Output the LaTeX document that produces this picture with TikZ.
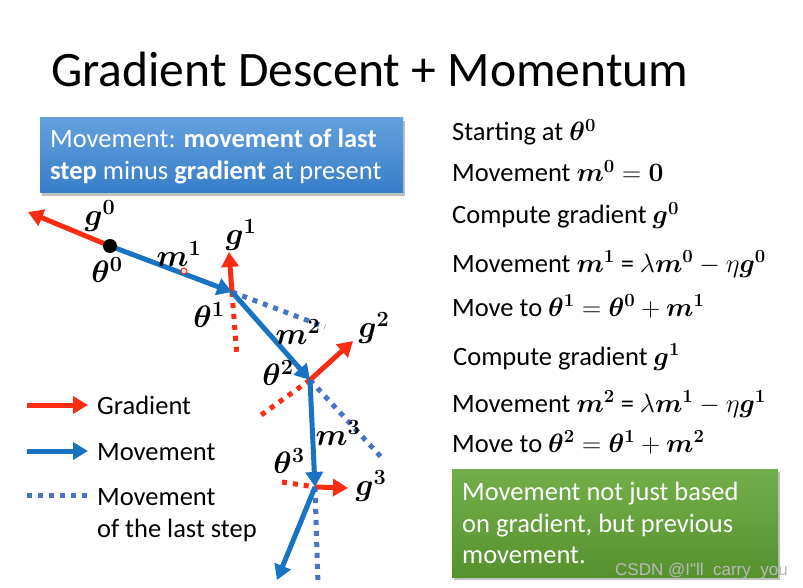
\RequirePackage{fix-cm}
\documentclass[tikz,border=0pt]{standalone}
\usepackage{amsmath,bm}
\usepackage{fontspec}
\setmainfont{Carlito}
\newfontfamily\wmfont{Liberation Sans}
\usetikzlibrary{arrows.meta}
\definecolor{gred}{RGB}{250,45,20}
\definecolor{mblue}{RGB}{25,115,195}
\definecolor{dblue}{RGB}{75,115,195}
\definecolor{bluetop}{RGB}{100,160,222}
\definecolor{bluebot}{RGB}{55,125,200}
\definecolor{greentop}{RGB}{115,175,75}
\definecolor{greenbot}{RGB}{85,145,45}
\tikzset{
  grad/.style={gred, line width=5pt, -{Triangle[length=15pt,width=17pt]}},
  mov/.style={mblue, line width=5pt, -{Triangle[length=15pt,width=17pt]}},
  lastmov/.style={dblue, line width=5pt, dash pattern=on 5pt off 6pt},
  reddot/.style={gred, line width=5pt, dash pattern=on 5pt off 6pt},
  lbl/.style={inner sep=0pt, font=\fontsize{31}{34}\selectfont},
  txt/.style={inner sep=0pt, anchor=base west, font=\fontsize{26.5}{32}\selectfont},
  wtxt/.style={txt, text=white},
  shadowbox/.style={fill=black!25, draw=none}
}
\begin{document}
\begin{tikzpicture}[x=1pt,y=-1pt]
\useasboundingbox (0,0) rectangle (803,588);
\fill[white] (0,0) rectangle (803,588);
% title
\node[inner sep=0pt, anchor=base west, font=\fontsize{49.6}{55}\selectfont] (title) at (51,87) {Gradient Descent + Momentum};
% blue box
\fill[shadowbox] (42,121) rectangle (405,196);
\shade[top color=bluetop, bottom color=bluebot] (40,118) rectangle (403,193);
\node[wtxt] (b1) at (50,148) {Movement: \textbf{movement of last}};
\node[wtxt] (b2) at (50,180) {\textbf{step} minus \textbf{gradient} at present};
% right text
\node[txt] (r1) at (452,141) {Starting at $\bm{\theta}^{\bm{0}}$};
\node[txt] (r2) at (452,182) {Movement $\bm{m}^{\bm{0}} = \bm{0}$};
\node[txt] (r3) at (452,224) {Compute gradient $\bm{g}^{\bm{0}}$};
\node[txt] (r4) at (452,272) {Movement $\bm{m}^{\bm{1}}$ = $\lambda\bm{m}^{\bm{0}} - \eta\bm{g}^{\bm{0}}$};
\node[txt] (r5) at (452,316) {Move to $\bm{\theta}^{\bm{1}} = \bm{\theta}^{\bm{0}} + \bm{m}^{\bm{1}}$};
\node[txt] (r6) at (453,365) {Compute gradient $\bm{g}^{\bm{1}}$};
\node[txt] (r7) at (452,412) {Movement $\bm{m}^{\bm{2}}$ = $\lambda\bm{m}^{\bm{1}} - \eta\bm{g}^{\bm{1}}$};
\node[txt] (r8) at (452,452) {Move to $\bm{\theta}^{\bm{2}} = \bm{\theta}^{\bm{1}} + \bm{m}^{\bm{2}}$};
% green box
\fill[shadowbox] (454,472) rectangle (780,580);
\shade[top color=greentop, bottom color=greenbot] (452,469) rectangle (778,577);
\node[wtxt] (gt1) at (462,500) {Movement not just based};
\node[wtxt] (gt2) at (462,532) {on gradient, but previous};
\node[wtxt] (gt3) at (462,563) {movement.};
\node[inner sep=0pt, anchor=base west, text=gray!55, font=\wmfont\fontsize{17}{19}\selectfont] (wm) at (615,575) {CSDN @I"ll\ \ carry\ \ you};
% points
\coordinate (t0) at (110,246);
\coordinate (t1) at (232,292);
\coordinate (t2) at (310,380);
\coordinate (t3) at (315,487);
\coordinate (g0) at (28,212);
\coordinate (g1) at (229,252);
\coordinate (g2) at (353,341);
\coordinate (g3) at (348,488);
\coordinate (rd1) at (237,357);
\coordinate (rd2) at (257,418);
\coordinate (rd3) at (282,482);
\coordinate (bd1) at (325,327);
\coordinate (bd2) at (382,458);
\coordinate (bd3) at (318,585);
\coordinate (m4) at (277,580);
% dotted lines
\draw[lastmov] (t1) -- (bd1);
\draw[lastmov] (t2) -- (bd2);
\draw[lastmov] (t3) -- (bd3);
\draw[reddot] (t1) -- (rd1);
\draw[reddot] (t2) -- (rd2);
\draw[reddot] (rd3) -- (t3);
% gradients
\draw[grad] (t0) -- (g0);
\draw[grad] (t1) -- (g1);
\draw[grad] (t2) -- (g2);
\draw[grad] (t3) -- (g3);
% movements
\draw[mov] (t0) -- (t1);
\draw[mov] (t1) -- (t2);
\draw[mov] (t2) -- (t3);
\draw[mov] (t3) -- (m4);
\fill[black] (t0) circle (7pt);
\draw[gred, line width=1pt, fill=gred!15] (184,271) circle (3pt);
% labels
\node[lbl] (lg0) at (100,216) {$\bm{g}^{\bm{0}}$};
\node[lbl] (lt0) at (107,270) {$\bm{\theta}^{\bm{0}}$};
\node[lbl] (lm1) at (179,254) {$\bm{m}^{\bm{1}}$};
\node[lbl] (lg1) at (241,235) {$\bm{g}^{\bm{1}}$};
\node[lbl] (lt1) at (209,315) {$\bm{\theta}^{\bm{1}}$};
\node[lbl] (lm2) at (298,332) {$\bm{m}^{\bm{2}}$};
\node[lbl] (lg2) at (374,328) {$\bm{g}^{\bm{2}}$};
\node[lbl] (lt2) at (278,373) {$\bm{\theta}^{\bm{2}}$};
\node[lbl] (lm3) at (338,433) {$\bm{m}^{\bm{3}}$};
\node[lbl] (lt3) at (289,461) {$\bm{\theta}^{\bm{3}}$};
\node[lbl] (lg3) at (371,486) {$\bm{g}^{\bm{3}}$};
% legend
\coordinate (la1) at (27,405);
\coordinate (la2) at (88,405);
\coordinate (lb1) at (27,451);
\coordinate (lb2) at (88,451);
\coordinate (lc1) at (27,495);
\coordinate (lc2) at (88,495);
\draw[grad] (la1) -- (la2);
\draw[mov] (lb1) -- (lb2);
\draw[lastmov] (lc1) -- (lc2);
\node[txt] (lt_a) at (97,414) {Gradient};
\node[txt] (lt_b) at (97,460) {Movement};
\node[txt] (lt_c) at (97,505) {Movement};
\node[txt] (lt_d) at (97,537) {of the last step};
\end{tikzpicture}
\end{document}
